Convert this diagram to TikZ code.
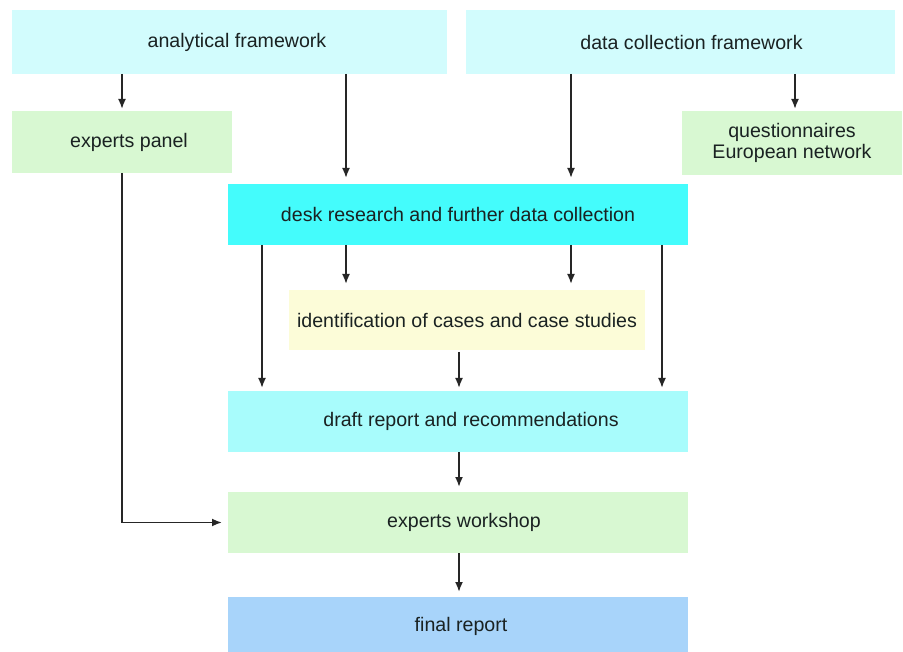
\documentclass[tikz,border=0pt]{standalone}
\usepackage{fontspec}
\setmainfont{Liberation Sans}
\usetikzlibrary{arrows.meta}
\definecolor{cLight}{HTML}{D2FCFD}
\definecolor{cGreen}{HTML}{D8F8D2}
\definecolor{cCyan}{HTML}{44FCFC}
\definecolor{cYellow}{HTML}{FCFCD8}
\definecolor{cDraft}{HTML}{A8FCFC}
\definecolor{cBlue}{HTML}{A8D4FA}
\definecolor{cText}{HTML}{1A2222}
\tikzset{
  box/.style={rectangle, inner sep=0pt, outer sep=0pt, text=cText, align=center,
    font=\fontsize{19.6}{21}\selectfont},
  arr/.style={draw=black!85, line width=1.8pt, -{Latex[length=10pt,width=8pt]}}
}
\begin{document}
\begin{tikzpicture}[x=1pt,y=-1pt]
\useasboundingbox (0,0) rectangle (903,652);
\node[box, fill=cLight, minimum width=435pt, minimum height=64pt] (af) at (229.5,42) {\hspace*{15pt}analytical framework};
\node[box, fill=cLight, minimum width=429pt, minimum height=64pt] (dcf) at (680.5,42) {\hspace*{22pt}data collection framework};
\node[box, fill=cGreen, minimum width=220pt, minimum height=62pt] (ep) at (122,142) {\hspace*{14pt}experts panel};
\node[box, fill=cGreen, minimum width=220pt, minimum height=64pt] (q) at (792,143) {questionnaires\\European network};
\node[box, fill=cCyan, minimum width=460pt, minimum height=61pt] (dr) at (458,214.5) {desk research and further data collection};
\node[box, fill=cYellow, minimum width=356pt, minimum height=60pt] (id) at (467,320) {identification of cases and case studies};
\node[box, fill=cDraft, minimum width=460pt, minimum height=61pt] (draft) at (458,421.5) {\hspace*{26pt}draft report and recommendations};
\node[box, fill=cGreen, minimum width=460pt, minimum height=61pt] (ew) at (458,522.5) {\hspace*{12pt}experts workshop};
\node[box, fill=cBlue, minimum width=460pt, minimum height=58pt] (fr) at (458,626) {\hspace*{6pt}final report};
\coordinate (xa) at (346,0);
\coordinate (xb) at (571,0);
\coordinate (xc) at (795,0);
\coordinate (xd) at (262,0);
\coordinate (xe) at (662,0);
\coordinate (xm) at (459,0);
\draw[arr, shorten >=2pt] (af.south -| ep.north) -- (ep.north);
\draw[arr, shorten >=6pt] (af.south -| xa) -- (dr.north -| xa);
\draw[arr, shorten >=6pt] (dcf.south -| xb) -- (dr.north -| xb);
\draw[arr, shorten >=2pt] (dcf.south -| xc) -- (q.north -| xc);
\draw[arr, shorten >=6pt] (dr.south -| xa) -- (id.north -| xa);
\draw[arr, shorten >=6pt] (dr.south -| xb) -- (id.north -| xb);
\draw[arr, shorten >=3pt] (dr.south -| xd) -- (draft.north -| xd);
\draw[arr, shorten >=3pt] (dr.south -| xe) -- (draft.north -| xe);
\draw[arr, shorten <=2pt, shorten >=3pt] (id.south -| xm) -- (draft.north -| xm);
\draw[arr, shorten >=5pt] (draft.south -| xm) -- (ew.north -| xm);
\draw[arr, shorten >=5pt] (ew.south -| xm) -- (fr.north -| xm);
\draw[arr, shorten >=6pt] (ep.south) |- (ew.west);
\end{tikzpicture}
\end{document}
